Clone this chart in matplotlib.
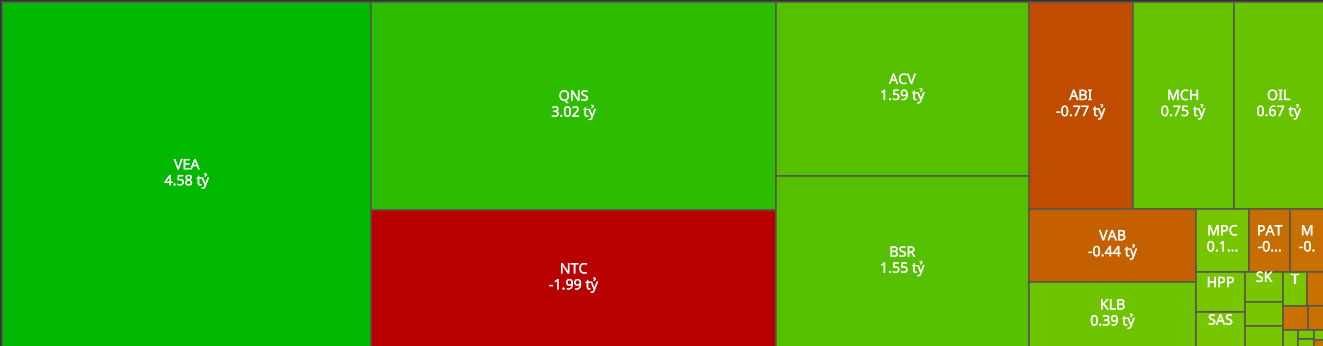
import numpy as np
import matplotlib
matplotlib.use("Agg")
import matplotlib.pyplot as plt
from matplotlib.patches import Rectangle
from matplotlib.font_manager import FontProperties
import matplotlib.patheffects as pe

# ---------------- data (net value, billion VND) ----------------
tickers = ["VEA", "QNS", "NTC", "ACV", "BSR", "ABI", "MCH", "OIL", "VAB", "KLB",
           "MPC", "PAT", "MVN", "HPP", "SAS", "SKV", "PXL", "DDV", "TDM", "VGT",
           "HHV", "G36", "SBS", "CTR", "LTG", "VTP", "QTP"]
values = [4.58, 3.02, -1.99, 1.59, 1.55, -0.77, 0.75, 0.67, -0.44, 0.39,
          0.12, -0.095, -0.076, 0.070, 0.061, 0.041, 0.0335, 0.0293, 0.0286, -0.021,
          -0.021, -0.013, 0.0089, 0.0055, 0.0045, 0.0035, -0.0024]
unit = "tỷ"

# ---------------- style ----------------
W, H, DPI = 1323, 346, 100
BG = "#2d3035"
EDGE = "#57574a"
FONT = "Noto Sans"
FS_PX = 14.3
pos_anchor_v = [0, 0.39, 0.70, 1.57, 3.02, 4.58]
pos_anchor_c = [(122, 198, 0), (110, 196, 0), (102, 194, 0), (85, 192, 0), (44, 188, 0), (0, 184, 0)]
neg_anchor_v = [0, 0.44, 0.77, 1.99]
neg_anchor_c = [(200, 114, 0), (196, 96, 0), (192, 76, 0), (184, 0, 0)]


def color_of(v):
    if v >= 0:
        av, ac = pos_anchor_v, pos_anchor_c
    else:
        av, ac = neg_anchor_v, neg_anchor_c
    a = abs(v)
    rgb = [np.interp(a, av, [c[k] for c in ac]) for k in range(3)]
    return tuple(x / 255 for x in rgb)


def squarify_d3(vals, x0, y0, x1, y1, ratio=(1 + 5 ** 0.5) / 2):
    rects = []
    n = len(vals)
    i0 = i1 = 0
    value = sum(vals)
    while i0 < n:
        dx, dy = x1 - x0, y1 - y0
        sumv = vals[i1]
        i1 += 1
        minv = maxv = sumv
        alpha = max(dy / dx, dx / dy) / (value * ratio)
        beta = sumv * sumv * alpha
        minr = max(maxv / beta, beta / minv)
        while i1 < n:
            nv = vals[i1]
            sumv += nv
            minv, maxv = min(minv, nv), max(maxv, nv)
            beta = sumv * sumv * alpha
            newr = max(maxv / beta, beta / minv)
            if newr > minr:
                sumv -= nv
                break
            minr = newr
            i1 += 1
        row = vals[i0:i1]
        if dx < dy:
            h = dy * sumv / value
            xx = x0
            for v in row:
                w = dx * v / sumv
                rects.append((xx, y0, w, h))
                xx += w
            y0 += h
        else:
            w = dx * sumv / value
            yy = y0
            for v in row:
                hh = dy * v / sumv
                rects.append((x0, yy, w, hh))
                yy += hh
            x0 += w
        value -= sumv
        i0 = i1
    return rects


fig = plt.figure(figsize=(W / DPI, H / DPI), dpi=DPI, facecolor=BG)
ax = fig.add_axes([0, 0, 1, 1])
ax.set_xlim(0, W)
ax.set_ylim(H, 0)
ax.axis("off")
ax.set_facecolor(BG)

order = sorted(range(len(values)), key=lambda i: -abs(values[i]))
sizes = [abs(values[i]) for i in order]
rects = squarify_d3(sizes, 2.0, 1.5, 1323.8, 347.0)

renderer = fig.canvas.get_renderer()
prop = FontProperties(family=FONT, size=FS_PX * 72 / DPI)
effects = [pe.withStroke(linewidth=0.2, foreground="white")]


def text_w(s):
    w, h, d = renderer.get_text_width_height_descent(s, prop, ismath=False)
    return w


def fit(s, avail):
    if text_w(s) <= avail:
        return s
    for k in range(len(s) - 1, 1, -1):
        c = s[:k].rstrip() + "..."
        if text_w(c) <= avail:
            return c
    for k in range(len(s) - 1, 0, -1):
        if text_w(s[:k]) <= avail:
            return s[:k]
    return s[:1]


for idx, (x, y, w, h) in zip(order, rects):
    v = values[idx]
    r = Rectangle((x, y), w, h, facecolor=color_of(v), edgecolor=EDGE, linewidth=1.1)
    ax.add_patch(r)
    if w < 20 or h < 27:
        continue
    cx, cy = x + w / 2, y + h / 2
    avail = w - 16
    t1 = ax.text(cx, cy - 5, fit(tickers[idx], avail), color="white", ha="center",
                 va="baseline", fontproperties=prop, path_effects=effects)
    t1.set_clip_path(r)
    if h >= 45:
        t2 = ax.text(cx, cy + 11, fit(f"{v:.2f} {unit}", avail), color="white", ha="center",
                     va="baseline", fontproperties=prop, path_effects=effects)
        t2.set_clip_path(r)

fig.savefig("out.png", dpi=DPI, facecolor=BG)
